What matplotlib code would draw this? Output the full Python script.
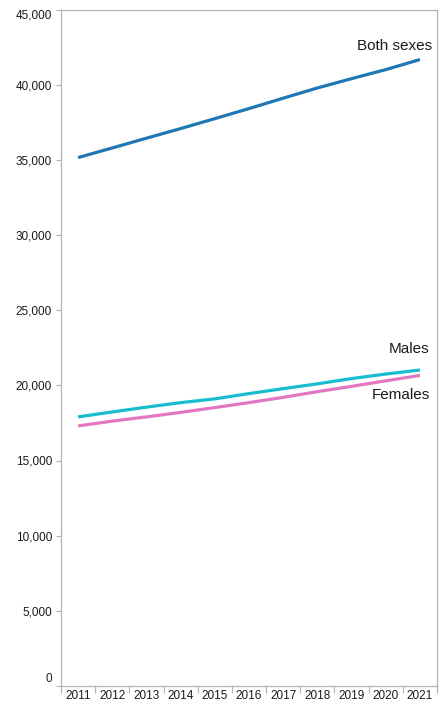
"""Population by sex, 2011-2021: line chart with end labels."""
import numpy as np
import matplotlib
matplotlib.use("Agg")
import matplotlib.pyplot as plt
import matplotlib.transforms as mtransforms

years = ["2011", "2012", "2013", "2014", "2015", "2016",
         "2017", "2018", "2019", "2020", "2021"]
both_sexes = [35150, 35790, 36440, 37080, 37740, 38410,
              39100, 39780, 40400, 41000, 41670]
males = [17900, 18230, 18550, 18850, 19100, 19450,
         19780, 20100, 20450, 20750, 21020]
females = [17300, 17620, 17900, 18200, 18520, 18850,
           19200, 19580, 19930, 20300, 20660]

series = [
    ("Both sexes", both_sexes, "#1f77b4", (9, 10)),
    ("Males", males, "#17becf", (7, 15)),
    ("Females", females, "#e377c2", (7, -14)),
]

plt.rcParams["font.family"] = ["Liberation Sans", "DejaVu Sans"]

fig = plt.figure(figsize=(4.41, 7.03), dpi=100)
ax = fig.add_axes([61 / 441, 1 - 686 / 703, (437 - 61) / 441, (686 - 9.5) / 703])

x = np.arange(len(years))
for name, vals, color, off in series:
    ax.plot(x, vals, color=color, linewidth=2.3, solid_capstyle="butt")
    ax.annotate(name, (x[-1], vals[-1]), xytext=off, textcoords="offset points",
                ha="right", va="center", fontsize=11, color="#1a1a1a")

ax.set_xlim(-0.5, len(years) - 0.5)
ax.set_ylim(0, 45000)
ax.set_yticks(np.arange(0, 45001, 5000))
ax.set_yticklabels([f"{v:,}" for v in range(0, 45001, 5000)])
ax.set_xticks(x)
ax.set_xticklabels(years)
ax.set_xticks(np.arange(-0.5, len(years), 1.0), minor=True)

ax.tick_params(axis="y", which="major", length=3.5, width=0.8, color="#b3b3b3",
               labelsize=8.5, pad=3, labelcolor="#1a1a1a")
ax.tick_params(axis="x", which="major", length=0, labelsize=8.5, pad=3,
               labelcolor="#1a1a1a")
ax.tick_params(axis="x", which="minor", length=5, width=0.8, color="#b3b3b3")

# end labels are kept inside the plot height, like the original
ylabels = ax.get_yticklabels()
ylabels[0].set_transform(ylabels[0].get_transform() +
                         mtransforms.ScaledTranslation(0, 6 / 72, fig.dpi_scale_trans))
ylabels[-1].set_transform(ylabels[-1].get_transform() +
                          mtransforms.ScaledTranslation(0, -3 / 72, fig.dpi_scale_trans))

for side in ["left", "bottom", "right", "top"]:
    ax.spines[side].set_color("#b3b3b3")
    ax.spines[side].set_linewidth(0.9)

fig.savefig("out.png", dpi=100)
